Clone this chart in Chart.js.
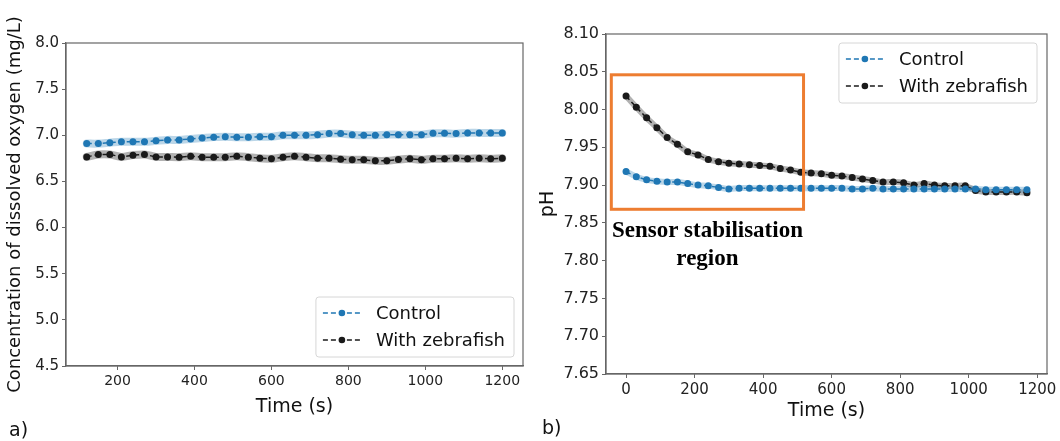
<!DOCTYPE html>
<html>
<head>
<meta charset="utf-8">
<script src="https://cdn.jsdelivr.net/npm/chart.js@4.4.1/dist/chart.umd.min.js"></script>
<style>
  body { margin: 0; background: #fff; }
  #wrap { position: relative; width: 1060px; height: 441px; }
  .box { position: absolute; top: 0; width: 530px; height: 441px; }
  .panel { position: absolute; font: 19px "DejaVu Sans"; color: #111; }
</style>
</head>
<body>
<div id="wrap">
  <div class="box" style="left:0"><canvas id="doChart"></canvas></div>
  <div class="box" style="left:530px"><canvas id="phChart"></canvas></div>
  <div class="panel" style="left:9px;top:418px">a)</div>
  <div class="panel" style="left:542px;top:416px">b)</div>
</div>
<script>
// dissolved oxygen panel
const doTime = [120, 150, 180, 210, 240, 270, 300, 330, 360, 390, 420, 450, 480, 510, 540, 570, 600, 630, 660,
  690, 720, 750, 780, 810, 840, 870, 900, 930, 960, 990, 1020, 1050, 1080, 1110, 1140, 1170, 1200];
const doControl = [6.91, 6.91, 6.92, 6.93, 6.93, 6.93, 6.94, 6.95, 6.95, 6.96, 6.97, 6.98, 6.985, 6.98, 6.98, 6.985, 6.985, 7.0, 7.0,
  7.0, 7.007, 7.018, 7.018, 7.007, 7.0, 7.0, 7.007, 7.007, 7.007, 7.007, 7.022, 7.022, 7.018, 7.026, 7.026, 7.026, 7.026];
const doZebrafish = [6.766, 6.792, 6.792, 6.766, 6.785, 6.792, 6.766, 6.766, 6.763, 6.774, 6.763, 6.763, 6.763, 6.774, 6.763, 6.752, 6.745, 6.763, 6.774,
  6.763, 6.752, 6.752, 6.741, 6.734, 6.734, 6.723, 6.723, 6.737, 6.745, 6.734, 6.745, 6.745, 6.752, 6.745, 6.752, 6.745, 6.752];
const doXTicks = [200, 400, 600, 800, 1000, 1200];
const doYTicks = [4.5, 5.0, 5.5, 6.0, 6.5, 7.0, 7.5, 8.0];

// pH panel
const phTime = [0, 30, 60, 90, 120, 150, 180, 210, 240, 270, 300, 330, 360, 390, 420, 450, 480, 510, 540, 570,
  600, 630, 660, 690, 720, 750, 780, 810, 840, 870, 900, 930, 960, 990, 1020, 1050, 1080, 1110, 1140, 1170];
const phControl = [7.918, 7.911, 7.907, 7.905, 7.904, 7.904, 7.902, 7.900, 7.899, 7.897, 7.895, 7.896, 7.896, 7.896, 7.896, 7.896, 7.896, 7.896, 7.896, 7.896,
  7.896, 7.896, 7.895, 7.895, 7.896, 7.895, 7.895, 7.895, 7.895, 7.895, 7.895, 7.895, 7.895, 7.895, 7.895, 7.894, 7.894, 7.894, 7.894, 7.894];
const phZebrafish = [8.018, 8.003, 7.989, 7.976, 7.963, 7.954, 7.944, 7.940, 7.934, 7.931, 7.929, 7.928, 7.927, 7.926, 7.925, 7.922, 7.920, 7.917, 7.916, 7.915,
  7.913, 7.912, 7.910, 7.908, 7.906, 7.904, 7.904, 7.903, 7.900, 7.902, 7.900, 7.899, 7.899, 7.899, 7.893, 7.891, 7.891, 7.891, 7.891, 7.890];
const phXTicks = [0, 200, 400, 600, 800, 1000, 1200];
const phYTicks = [7.65, 7.70, 7.75, 7.80, 7.85, 7.90, 7.95, 8.00, 8.05, 8.10];

const seriesNames = ["Control", "With zebrafish"];
const BLUE = "#1f77b4";
const BLACK = "#1a1a1a";
const AXIS = "#666";
const FONT = "DejaVu Sans";

function pts(xs, ys) {
  return xs.map((x, i) => ({ x: x, y: ys[i] }));
}

function makeDatasets(xs, a, b, bandWidth) {
  return [
    { label: seriesNames[0], data: pts(xs, a), borderColor: BLUE, backgroundColor: BLUE, borderWidth: 1.5,
      borderDash: [5, 3], pointRadius: 3.5, pointBorderWidth: 0, tension: 0, order: 1, inLegend: true },
    { label: seriesNames[1], data: pts(xs, b), borderColor: BLACK, backgroundColor: BLACK, borderWidth: 1.5,
      borderDash: [5, 3], pointRadius: 3.5, pointBorderWidth: 0, tension: 0, order: 1, inLegend: true },
    { label: "band0", data: pts(xs, a), borderColor: "rgba(31,119,180,0.3)", borderWidth: bandWidth,
      pointRadius: 0, tension: 0.3, borderCapStyle: "round", order: 2 },
    { label: "band1", data: pts(xs, b), borderColor: "rgba(0,0,0,0.3)", borderWidth: bandWidth,
      pointRadius: 0, tension: 0.3, borderCapStyle: "round", order: 2 }
  ];
}

// full matplotlib style box around the axes
const framePlugin = {
  id: "frame",
  afterDraw(chart) {
    const a = chart.chartArea, ctx = chart.ctx;
    ctx.save();
    ctx.strokeStyle = AXIS;
    ctx.lineWidth = 1.2;
    ctx.strokeRect(a.left, a.top, a.right - a.left, a.bottom - a.top);
    ctx.restore();
  }
};

// legend drawn inside the plot like matplotlib
const boxLegend = {
  id: "boxLegend",
  afterDraw(chart, args, opts) {
    const ctx = chart.ctx, a = chart.chartArea;
    const items = chart.data.datasets.filter(d => d.inLegend);
    ctx.save();
    ctx.font = "18px " + FONT;
    const textW = Math.max(...items.map(d => ctx.measureText(d.label).width));
    const w = 60 + textW + 9, h = 60;
    const left = opts.corner === "lr" ? a.right - 9 - w : a.right - 10 - w;
    const top = opts.corner === "lr" ? a.bottom - 9 - h : a.top + 9;
    ctx.beginPath();
    ctx.roundRect(left, top, w, h, 3);
    ctx.fillStyle = "rgba(255,255,255,0.85)";
    ctx.fill();
    ctx.strokeStyle = "#d6d6d6";
    ctx.lineWidth = 1;
    ctx.stroke();
    items.forEach((d, i) => {
      const y = top + 16 + i * 27;
      ctx.strokeStyle = d.borderColor;
      ctx.lineWidth = 1.5;
      ctx.setLineDash([5, 3]);
      ctx.beginPath();
      ctx.moveTo(left + 7, y);
      ctx.lineTo(left + 45, y);
      ctx.stroke();
      ctx.setLineDash([]);
      ctx.fillStyle = d.borderColor;
      ctx.beginPath();
      ctx.arc(left + 26, y, 3.3, 0, Math.PI * 2);
      ctx.fill();
      ctx.fillStyle = "#111";
      ctx.textBaseline = "middle";
      ctx.fillText(d.label, left + 60, y + 1);
    });
    ctx.restore();
  }
};

// orange "sensor stabilisation" box on the pH panel
const regionPlugin = {
  id: "region",
  afterDatasetsDraw(chart) {
    const x = chart.scales.x, y = chart.scales.y, ctx = chart.ctx;
    const l = x.getPixelForValue(-43), r = x.getPixelForValue(518);
    const t = y.getPixelForValue(8.046), b = y.getPixelForValue(7.868);
    ctx.save();
    ctx.strokeStyle = "#ed7d31";
    ctx.lineWidth = 3;
    ctx.strokeRect(l, t, r - l, b - t);
    ctx.fillStyle = "#000";
    ctx.font = "bold 23px 'Liberation Serif'";
    ctx.textAlign = "center";
    ctx.textBaseline = "alphabetic";
    const cx = (l + r) / 2;
    ctx.fillText("Sensor stabilisation", cx, b + 28);
    ctx.fillText("region", cx, b + 56);
    ctx.restore();
  }
};

function axisCfg(min, max, ticks, decimals, title, size, titleSize, fitSize, horizontal) {
  return {
    type: "linear",
    min: min,
    max: max,
    afterBuildTicks: s => { s.ticks = ticks.map(v => ({ value: v })); },
    afterFit: s => { if (horizontal) s.height = fitSize; else s.width = fitSize; },
    border: { display: true, color: AXIS, width: 1.2 },
    grid: { drawOnChartArea: false, drawTicks: true, tickLength: 4, color: AXIS, tickWidth: 1 },
    ticks: {
      color: "#222",
      font: { family: FONT, size: size },
      padding: 3,
      maxRotation: 0,
      callback: v => decimals === null ? String(v) : v.toFixed(decimals)
    },
    title: { display: true, text: title, color: "#111", font: { family: FONT, size: titleSize }, padding: 0 }
  };
}

new Chart(document.getElementById("doChart"), {
  type: "line",
  data: { datasets: makeDatasets(doTime, doControl, doZebrafish, 8) },
  options: {
    responsive: true,
    maintainAspectRatio: false,
    animation: false,
    layout: { padding: { left: 5, top: 43, right: 7, bottom: 23 } },
    plugins: { legend: { display: false }, tooltip: { enabled: false }, boxLegend: { corner: "lr" } },
    scales: {
      x: axisCfg(66, 1254, doXTicks, null, "Time (s)", 14, 19, 52, true),
      y: axisCfg(4.5, 8.0, doYTicks, 1, "Concentration of dissolved oxygen (mg/L)", 15, 18, 61, false)
    }
  },
  plugins: [framePlugin, boxLegend]
});

new Chart(document.getElementById("phChart"), {
  type: "line",
  data: { datasets: makeDatasets(phTime, phControl, phZebrafish, 6) },
  options: {
    responsive: true,
    maintainAspectRatio: false,
    animation: false,
    layout: { padding: { left: 7, top: 34, right: 13, bottom: 19 } },
    plugins: { legend: { display: false }, tooltip: { enabled: false }, boxLegend: { corner: "ur" } },
    scales: {
      x: axisCfg(-58.5, 1228.5, phXTicks, null, "Time (s)", 15, 19, 48, true),
      y: axisCfg(7.65, 8.10, phYTicks, 2, "pH", 16, 19, 69, false)
    }
  },
  plugins: [framePlugin, boxLegend, regionPlugin]
});
</script>
</body>
</html>
